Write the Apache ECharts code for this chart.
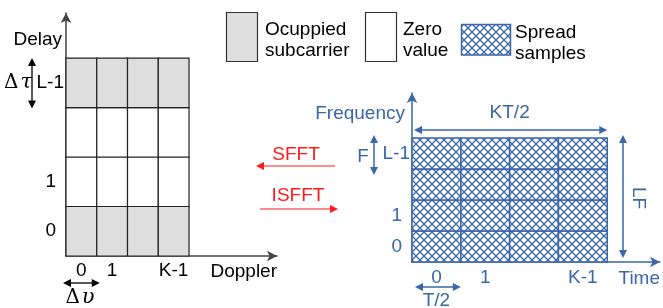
<!DOCTYPE html>
<html><head><meta charset="utf-8">
<script src="https://cdn.jsdelivr.net/npm/echarts@6/dist/echarts.min.js"></script>
<style>html,body{margin:0;padding:0;background:#fff}#c{width:663px;height:308px}</style>
</head><body><div id="c"></div>
<script>
// ---- data ----
const dopplerTicks = ['0', '1', '', 'K-1'];
const delayTicks = ['0', '1', '', 'L-1'];
const timeTicks = ['0', '1', '', 'K-1'];
const freqTicks = ['0', '1', '', 'L-1'];
const delayRowOccupied = [1, 0, 0, 1];   // 1 = occupied subcarrier, 0 = zero value
const freqRowSpread = [1, 1, 1, 1];      // 1 = spread samples
const legendItems = ['Ocuppied\nsubcarrier', 'Zero\nvalue', 'Spread\nsamples'];

// ---- style ----
const FONT = '"Liberation Sans", Arial, sans-serif';
const SERIF = '"DejaVu Serif", "Liberation Serif", serif';
const FS = 19;
const BLUE = '#3a67a8';
const GRAY = '#dedede';
const RED = '#ff1a1a';

function hatchCanvas() {
  const s = 8, c = document.createElement('canvas');
  c.width = s; c.height = s;
  const g = c.getContext('2d');
  g.fillStyle = '#fff'; g.fillRect(0, 0, s, s);
  g.strokeStyle = BLUE; g.lineWidth = 1.3;
  g.beginPath();
  g.moveTo(-1, -1); g.lineTo(s + 1, s + 1);
  g.moveTo(s + 1, -1); g.lineTo(-1, s + 1);
  g.stroke();
  return c;
}
const HATCH = { image: hatchCanvas(), repeat: 'repeat' };

function lab(labels, v) {
  const i = v - 0.5, r = Math.round(i);
  if (Math.abs(i - r) < 1e-6 && r >= 0 && r < labels.length && labels[r]) {
    return labels[r].length > 1 ? '{w|' + labels[r] + '}' : '{n|' + labels[r] + '}';
  }
  return '';
}

const leftCells = [];
delayRowOccupied.forEach((occ, r) => dopplerTicks.forEach((_, c) => leftCells.push([c, r, occ])));
const rightCells = [];
freqRowSpread.forEach((sp, r) => timeTicks.forEach((_, c) => rightCells.push([c, r, sp])));

function cellRender(kind) {
  return function (params, api) {
    const x = api.value(0), y = api.value(1), t = api.value(2);
    const p0 = api.coord([x, y]), p1 = api.coord([x + 1, y + 1]);
    const shape = { x: p0[0], y: p1[1], width: p1[0] - p0[0], height: p0[1] - p1[1] };
    if (kind === 'dd') {
      return { type: 'rect', shape, style: { fill: t ? GRAY : '#fff', stroke: '#222', lineWidth: 1.2 } };
    }
    return { type: 'rect', shape, style: { fill: HATCH, stroke: BLUE, lineWidth: 1.5 } };
  };
}

function axisX(grid, max, labels, name, color, lineColor, margin) {
  return {
    gridIndex: grid, type: 'value', min: 0, max: max, interval: 0.5,
    name: name, nameLocation: 'end', nameGap: 0,
    nameTextStyle: { color: color, fontSize: FS, fontFamily: FONT, align: 'right', verticalAlign: 'top', padding: [margin + 1, 0, 0, 0] },
    splitLine: { show: false }, axisTick: { show: false },
    axisLine: { lineStyle: { color: lineColor, width: 1.5 }, symbol: ['none', 'arrow'], symbolSize: [8, 10] },
    axisLabel: {
      formatter: v => lab(labels, v), color: color, fontSize: FS, fontFamily: FONT, margin: margin,
      showMaxLabel: false, showMinLabel: false, hideOverlap: false,
      rich: { n: { fontSize: FS, fontFamily: FONT, color: color }, w: { fontSize: FS, fontFamily: FONT, color: color } }
    }
  };
}
function axisY(grid, max, labels, name, color, lineColor, nameGap, namePadRight) {
  return {
    gridIndex: grid, type: 'value', min: 0, max: max, interval: 0.5,
    name: name, nameLocation: 'end', nameGap: nameGap,
    nameTextStyle: { color: color, fontSize: FS, fontFamily: FONT, align: 'right', verticalAlign: 'middle', padding: [0, namePadRight, 0, 0] },
    splitLine: { show: false }, axisTick: { show: false },
    axisLine: { lineStyle: { color: lineColor, width: 1.5 }, symbol: ['none', 'arrow'], symbolSize: [8, 10] },
    axisLabel: {
      formatter: v => lab(labels, v), color: color, fontSize: FS, fontFamily: FONT, margin: 2,
      showMaxLabel: false, showMinLabel: false, hideOverlap: false,
      rich: { n: { fontSize: FS, fontFamily: FONT, color: color, padding: [0, 8, 0, 0] }, w: { fontSize: FS, fontFamily: FONT, color: color } }
    }
  };
}

const chart = echarts.init(document.getElementById('c'), null, { renderer: 'canvas' });
chart.setOption({
  animation: false,
  grid: [
    { left: 66, top: 13, width: 211, height: 243 },
    { left: 412, top: 93, width: 251, height: 169 }
  ],
  xAxis: [
    axisX(0, 6.86, dopplerTicks, 'Doppler', '#000', '#444', 5),
    axisX(1, 5.08, timeTicks, 'Time', BLUE, BLUE, 6)
  ],
  yAxis: [
    axisY(0, 4.91, delayTicks, 'Delay', '#000', '#444', -27, 4),
    axisY(1, 5.45, freqTicks, 'Frequency', BLUE, BLUE, -21, 7)
  ],
  series: [
    { type: 'custom', xAxisIndex: 0, yAxisIndex: 0, data: leftCells, renderItem: cellRender('dd'), encode: { x: 0, y: 1 } },
    { type: 'custom', xAxisIndex: 1, yAxisIndex: 1, data: rightCells, renderItem: cellRender('tf'), encode: { x: 0, y: 1 } }
  ]
});

// ---- annotations ----
function arrow(x1, y1, x2, y2, color, both, lw) {
  const els = [];
  const dx = x2 - x1, dy = y2 - y1, L = Math.hypot(dx, dy), ux = dx / L, uy = dy / L;
  const hl = 8, hw = 4;
  const head = (tx, ty, dxs, dys) => ({
    type: 'polygon',
    shape: { points: [[tx, ty], [tx - dxs * hl - dys * hw, ty - dys * hl + dxs * hw], [tx - dxs * hl + dys * hw, ty - dys * hl - dxs * hw]] },
    style: { fill: color }
  });
  const sx = both ? x1 + ux * hl * 0.8 : x1, sy = both ? y1 + uy * hl * 0.8 : y1;
  els.push({ type: 'line', shape: { x1: sx, y1: sy, x2: x2 - ux * hl * 0.8, y2: y2 - uy * hl * 0.8 }, style: { stroke: color, lineWidth: lw || 1.5 } });
  els.push(head(x2, y2, ux, uy));
  if (both) els.push(head(x1, y1, -ux, -uy));
  return els;
}
function txt(s, x, y, color, opts) {
  return Object.assign({
    type: 'text', x: x, y: y,
    style: Object.assign({ text: s, fill: color, font: FS + 'px ' + FONT, align: 'center', verticalAlign: 'middle' }, (opts || {}).style || {})
  }, (opts || {}).el || {});
}
function greek(sym, x, y) {
  return {
    type: 'text', x: x, y: y,
    style: {
      text: '{a|\u0394}{b|' + sym + '}', align: 'center', verticalAlign: 'middle', fill: '#000',
      rich: { a: { font: '20px ' + SERIF, fill: '#000', padding: [0, 2, 0, 0] }, b: { font: 'italic 21px ' + SERIF, fill: '#000' } }
    }
  };
}

const L = (p) => chart.convertToPixel({ gridIndex: 0 }, p);
const R = (p) => chart.convertToPixel({ gridIndex: 1 }, p);
const g = [];
// Delay-Doppler grid spacing marks
{
  const a = L([0, 3]), b = L([0, 4]);
  g.push(...arrow(32, a[1] + 1, 32, b[1], '#000', true, 1.3));
  g.push(greek('\u03c4', 18, (a[1] + b[1]) / 2));
  const c = L([0, 0]), d = L([1, 0]);
  g.push(...arrow(c[0] - 3, 283, d[0] + 3, 283, '#000', true, 1.3));
  g.push(greek('\u03c5', 80, 298));
}
// Time-frequency grid marks
{
  const a = R([0, 4]), b = R([4, 4]);
  g.push(...arrow(a[0] + 2, 130, b[0], 130, BLUE, true, 1.5));
  g.push(txt('KT/2', (a[0] + b[0]) / 2, 113, BLUE));
  const c = R([0, 3]), d = R([0, 4]);
  g.push(...arrow(374, c[1] + 6, 374, d[1] - 3, BLUE, true, 1.5));
  g.push(txt('F', 363, 157, BLUE));
  const e = R([0, 0]), f = R([0, 4]);
  g.push(...arrow(623, e[1] - 4, 623, f[1] - 3, BLUE, true, 1.5));
  g.push(txt('LF', 638, 198, BLUE, { el: { rotation: -Math.PI / 2 } }));
  const h = R([0, 0]), k = R([1, 0]);
  g.push(...arrow(h[0] + 3, 287, k[0], 287, BLUE, true, 1.5));
  g.push(txt('T/2', (h[0] + k[0]) / 2, 301, BLUE));
}
// transforms
g.push(...arrow(335, 166, 256, 166, RED, false, 1.2));
g.push(txt('SFFT', 296, 155, RED));
g.push(...arrow(260, 209, 338, 209, RED, false, 1.2));
g.push(txt('ISFFT', 298, 196, RED));
// legend
g.push({ type: 'rect', shape: { x: 226.5, y: 12.5, width: 31, height: 49 }, style: { fill: GRAY, stroke: '#333', lineWidth: 1.2 } });
g.push(txt(legendItems[0], 265, 40, '#000', { style: { align: 'left', lineHeight: 21 } }));
g.push({ type: 'rect', shape: { x: 365.5, y: 12.5, width: 31, height: 49 }, style: { fill: '#fff', stroke: '#333', lineWidth: 1.2 } });
g.push(txt(legendItems[1], 403, 40, '#000', { style: { align: 'left', lineHeight: 21 } }));
g.push({ type: 'rect', shape: { x: 461.5, y: 24.5, width: 49, height: 30.5 }, style: { fill: HATCH, stroke: BLUE, lineWidth: 1.5 } });
g.push(txt(legendItems[2], 515, 43, '#000', { style: { align: 'left', lineHeight: 21 } }));

chart.setOption({ graphic: { elements: g } });
</script>
</body></html>
